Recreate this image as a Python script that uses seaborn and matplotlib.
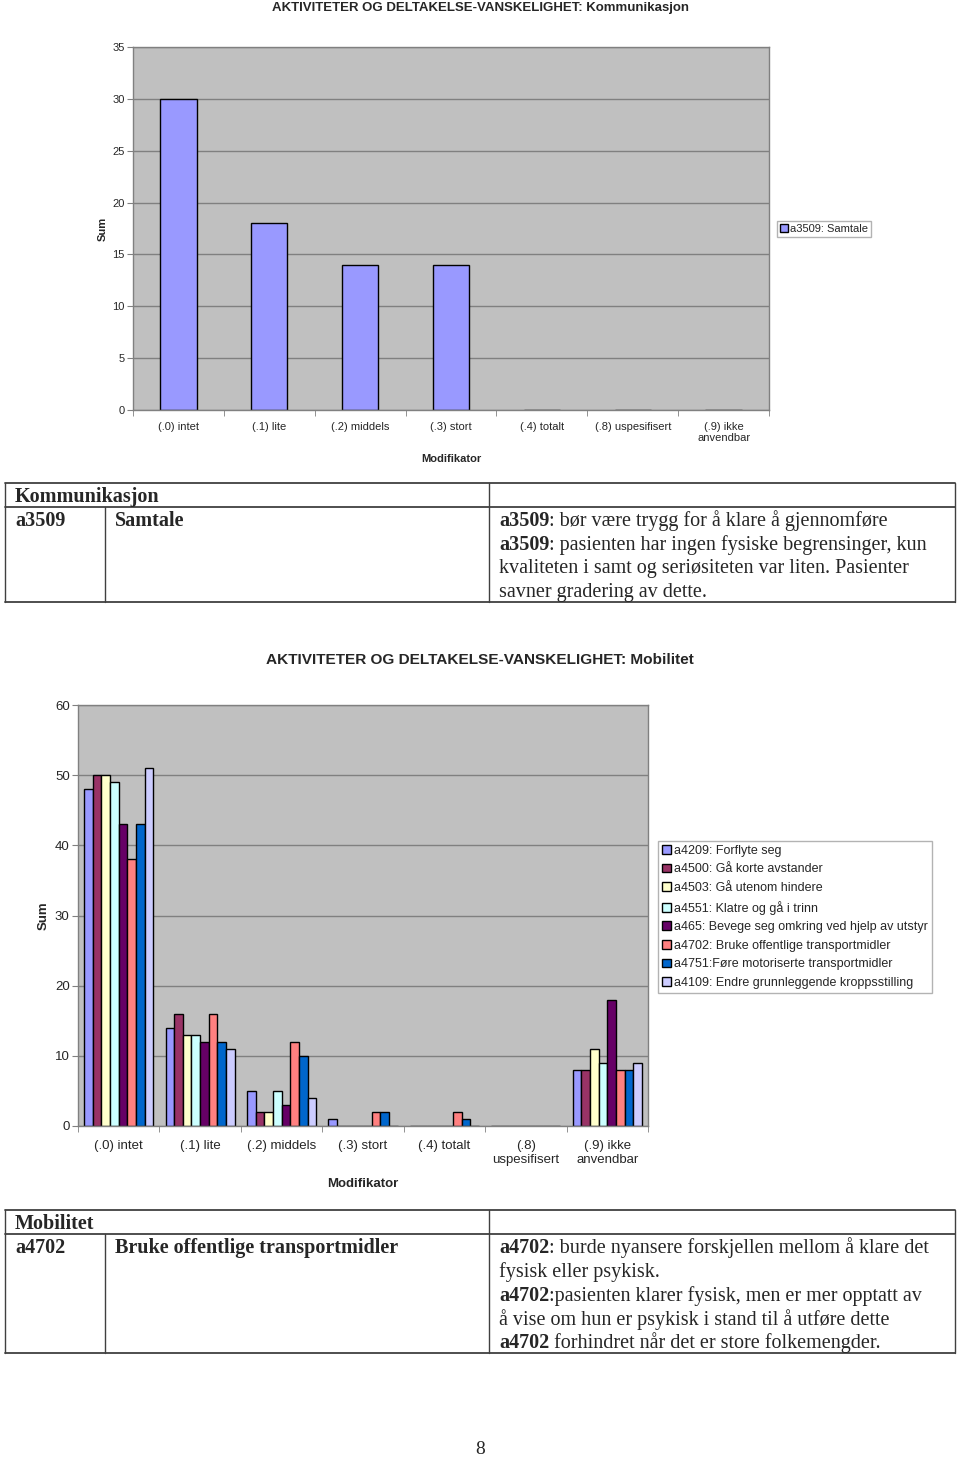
import pandas as pd
import seaborn as sns
import numpy as np
import matplotlib.pyplot as plt
from matplotlib.patches import Patch

# categories on the x axis
mod_kom = ['(.0) intet', '(.1) lite', '(.2) middels', '(.3) stort', '(.4) totalt',
           '(.8) uspesifisert', '(.9) ikke\nanvendbar']
mod_mob = ['(.0) intet', '(.1) lite', '(.2) middels', '(.3) stort', '(.4) totalt',
           '(.8)\nuspesifisert', '(.9) ikke\nanvendbar']

# chart 1 - Kommunikasjon
kom_series = 'a3509: Samtale'
kom_values = [30, 18, 14, 14, 0, 0, 0]

# chart 2 - Mobilitet
mob_series = ['a4209: Forflyte seg',
              'a4500: Gå korte avstander',
              'a4503: Gå utenom hindere',
              'a4551: Klatre og gå i trinn',
              'a465: Bevege seg omkring ved hjelp av utstyr',
              'a4702: Bruke offentlige transportmidler',
              'a4751:Føre motoriserte transportmidler',
              'a4109: Endre grunnleggende kroppsstilling']
a4209 = [48, 14, 5, 1, 0, 0, 8]
a4500 = [50, 16, 2, 0, 0, 0, 8]
a4503 = [50, 13, 2, 0, 0, 0, 11]
a4551 = [49, 13, 5, 0, 0, 0, 9]
a465 = [43, 12, 3, 0, 0, 0, 18]
a4702 = [38, 16, 12, 2, 2, 0, 8]
a4751 = [43, 12, 10, 2, 1, 0, 8]
a4109 = [51, 11, 4, 0, 0, 0, 9]
mob_values = [a4209, a4500, a4503, a4551, a465, a4702, a4751, a4109]

excel_colors = ['#9999FF', '#993366', '#FFFFCC', '#CCFFFF',
                '#660066', '#FF8080', '#0066CC', '#CCCCFF']

df1 = pd.DataFrame({'Modifikator': mod_kom, 'Sum': kom_values, 'Kode': kom_series})
rows = []
for name, vals in zip(mob_series, mob_values):
    for m, v in zip(mod_mob, vals):
        rows.append({'Modifikator': m, 'Sum': v, 'Kode': name})
df2 = pd.DataFrame(rows)

sns.set_style('white')
plt.rcParams['font.family'] = ['Liberation Sans', 'DejaVu Sans']

W, H = 960, 1460
fig = plt.figure(figsize=(9.6, 14.6), dpi=100)

# background axes in pixel coordinates for titles and tables
bg = fig.add_axes([0, 0, 1, 1])
bg.set_xlim(0, W)
bg.set_ylim(H, 0)
bg.axis('off')


def px_axes(left, top, right, bottom):
    return fig.add_axes([left / W, 1 - bottom / H, (right - left) / W, (bottom - top) / H])


def style_axes(ax, ymax, step, fs, ypad, xpad):
    ax.set_facecolor('#C0C0C0')
    ax.set_ylim(0, ymax)
    ax.set_yticks(np.arange(0, ymax + 1, step))
    ax.set_xlim(-0.5, 6.5)
    ax.yaxis.grid(True, color='#808080', lw=1)
    ax.set_axisbelow(True)
    for s in ax.spines.values():
        s.set_color('#808080')
        s.set_linewidth(1)
    ax.tick_params(axis='y', length=4, color='#808080', labelsize=fs, pad=ypad, left=True)
    ax.tick_params(axis='x', which='major', length=0, labelsize=fs, pad=xpad)
    ax.set_xticks(np.arange(-0.5, 7, 1), minor=True)
    ax.tick_params(axis='x', which='minor', length=4, color='#808080', bottom=True)


# ---------------- chart 1 ----------------
bg.text(480, 8, 'AKTIVITETER OG DELTAKELSE-VANSKELIGHET: Kommunikasjon',
        ha='center', va='center', fontsize=9.5, fontweight='bold')
ax1 = px_axes(133, 47, 769, 410)
sns.barplot(data=df1, x='Modifikator', y='Sum', hue='Kode', order=mod_kom,
            palette=[excel_colors[0]], saturation=1, width=0.4, edgecolor='black',
            linewidth=1, ax=ax1, legend=False)
style_axes(ax1, 35, 5, 8, 2, 8.5)
ax1.set_ylabel('Sum', fontsize=8, fontweight='bold')
ax1.set_xlabel('Modifikator', fontsize=8, fontweight='bold')
ax1.yaxis.set_label_coords(-0.040, 0.5)
ax1.xaxis.set_label_coords(0.5, -0.121)
ax1.legend(handles=[Patch(facecolor=excel_colors[0], edgecolor='black', label=kom_series)],
           loc='center left', bbox_to_anchor=(777 / W, 1 - 229 / H),
           bbox_transform=fig.transFigure, fontsize=8, frameon=True, fancybox=False,
           edgecolor='#A0A0A0', handlelength=0.7, handleheight=0.7, handletextpad=0.2,
           borderpad=0.25, borderaxespad=0)

# ---------------- chart 2 ----------------
bg.text(480, 660, 'AKTIVITETER OG DELTAKELSE-VANSKELIGHET: Mobilitet',
        ha='center', va='center', fontsize=11.1, fontweight='bold')
ax2 = px_axes(78, 705, 648, 1126)
sns.barplot(data=df2, x='Modifikator', y='Sum', hue='Kode', order=mod_mob,
            hue_order=mob_series, palette=excel_colors, saturation=1, width=0.85,
            edgecolor='black', linewidth=1, ax=ax2, legend=False)
style_axes(ax2, 60, 10, 9.5, 2, 10)
ax2.set_ylabel('Sum', fontsize=9.5, fontweight='bold')
ax2.set_xlabel('Modifikator', fontsize=9.5, fontweight='bold')
ax2.yaxis.set_label_coords(-0.049, 0.5)
ax2.xaxis.set_label_coords(0.5, -0.124)
handles = [Patch(facecolor=c, edgecolor='black', label=n) for c, n in zip(excel_colors, mob_series)]
ax2.legend(handles=handles, loc='upper left', bbox_to_anchor=(658 / W, 1 - 841 / H),
           bbox_transform=fig.transFigure, fontsize=9, frameon=True, fancybox=False,
           edgecolor='#A0A0A0', handlelength=0.7, handleheight=0.7, handletextpad=0.3,
           borderpad=0.3, labelspacing=0.53, borderaxespad=0)


# ---------------- tables ----------------
def mixed(x, y, parts, fs=14.5):
    # parts: list of (text, bold) drawn one after another on one line
    t = bg.text(x, y, parts[0][0], fontsize=fs, va='center', ha='left',
                family='Liberation Serif', fontweight='bold' if parts[0][1] else 'normal')
    for txt, bold in parts[1:]:
        t = bg.annotate(txt, xy=(1, 0), xycoords=t, va='bottom', ha='left', fontsize=fs,
                        family='Liberation Serif', fontweight='bold' if bold else 'normal')
    return t


def table(top, head, bottom, title, code, name, lines):
    lc = '#404040'
    for y in (top, head, bottom):
        bg.plot([5, 955], [y, y], color=lc, lw=1.3)
    bg.plot([5, 5], [top, bottom], color=lc, lw=1)
    bg.plot([955, 955], [top, bottom], color=lc, lw=1)
    bg.plot([489, 489], [top, bottom], color=lc, lw=1)
    bg.plot([105, 105], [head, bottom], color=lc, lw=1)
    mixed(15, (top + head) / 2 + 2, [(title, True)])
    mixed(15, head + 14, [(code, True)])
    mixed(115, head + 14, [(name, True)])
    for i, parts in enumerate(lines):
        mixed(499, head + 14 + 23.8 * i, parts)


table(483, 507, 602, 'Kommunikasjon', 'a3509', 'Samtale',
      [[('a3509', True), (': bør være trygg for å klare å gjennomføre', False)],
       [('a3509', True), (': pasienten har ingen fysiske begrensinger, kun', False)],
       [('kvaliteten i samt og seriøsiteten var liten. Pasienter', False)],
       [('savner gradering av dette.', False)]])

table(1210, 1234, 1353, 'Mobilitet', 'a4702', 'Bruke offentlige transportmidler',
      [[('a4702', True), (': burde nyansere forskjellen mellom å klare det', False)],
       [('fysisk eller psykisk.', False)],
       [('a4702', True), (':pasienten klarer fysisk, men er mer opptatt av', False)],
       [('å vise om hun er psykisk i stand til å utføre dette', False)],
       [('a4702', True), (' forhindret når det er store folkemengder.', False)]])

bg.text(480, 1449, '8', ha='center', va='center', fontsize=14, family='Liberation Serif')

fig.savefig('out.png', dpi=100)
